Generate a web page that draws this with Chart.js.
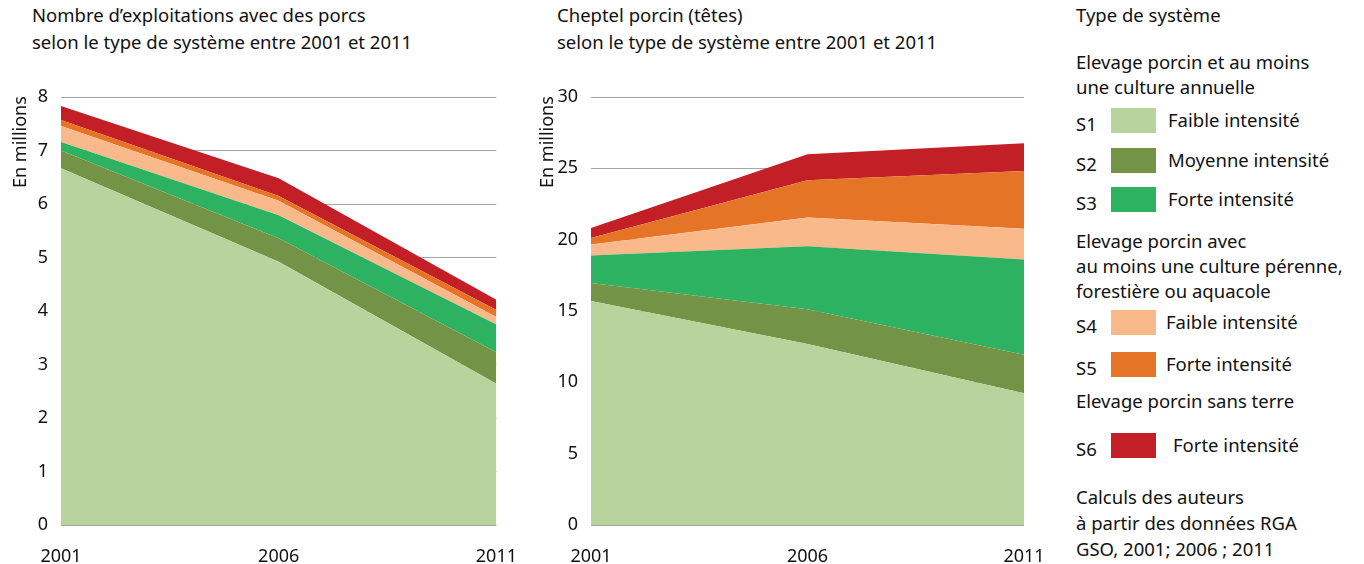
<!DOCTYPE html>
<meta charset="utf-8" />
<title>Exploitations et cheptel porcin</title>
<script src="https://cdn.jsdelivr.net/npm/chart.js@4/dist/chart.umd.min.js"></script>
<style>
body {
	margin: 0;
	width: 1364px;
	height: 564px;
	position: relative;
	overflow: hidden;
	background: #fff;
	font-family: 'Noto Sans', sans-serif;
	font-size: 18.5px;
	color: #111;
}
.title {
	position: absolute;
	top: 1px;
	line-height: 27px;
	white-space: nowrap;
}
.ytitle {
	position: absolute;
	white-space: nowrap;
	transform-origin: left top;
	transform: rotate(-90deg);
	font-size: 18px;
}
.box {
	position: absolute;
	top: 60px;
	height: 504px;
}
.legend {
	position: absolute;
	left: 1076px;
	top: 0;
	width: 288px;
}
.legend div {
	position: absolute;
	white-space: nowrap;
	line-height: 26px;
}
.sw {
	width: 45px;
	height: 25px;
}
</style>

<div class="title" style="left: 32px;">Nombre d’exploitations avec des porcs<br>selon le type de système entre 2001 et 2011</div>
<div class="title" style="left: 557px;">Cheptel porcin (têtes)<br>selon le type de système entre 2001 et 2011</div>

<div class="box" style="left: 0; width: 530px;"><canvas id="farms"></canvas></div>
<div class="box" style="left: 530px; width: 530px;"><canvas id="herd"></canvas></div>

<div class="ytitle" style="left: 7px; top: 188px;">En millions</div>
<div class="ytitle" style="left: 534px; top: 188px;">En millions</div>

<div class="legend" id="legend"></div>

<script>
const years = ['2001', '2006', '2011'];

// nombre d'exploitations (lecture du graphique)
const farmsS1 = [6.67, 4.92, 2.64];
const farmsS2 = [0.33, 0.44, 0.59];
const farmsS3 = [0.16, 0.43, 0.52];
const farmsS4 = [0.30, 0.27, 0.14];
const farmsS5 = [0.11, 0.09, 0.13];
const farmsS6 = [0.26, 0.33, 0.19];

// cheptel (têtes)
const herdS1 = [15.7, 12.68, 9.23];
const herdS2 = [1.26, 2.44, 2.70];
const herdS3 = [1.93, 4.42, 6.68];
const herdS4 = [0.77, 2.02, 2.16];
const herdS5 = [0.46, 2.61, 4.05];
const herdS6 = [0.69, 1.81, 1.93];

const codes = ['S1', 'S2', 'S3', 'S4', 'S5', 'S6'];
const labels = ['Faible intensité', 'Moyenne intensité', 'Forte intensité', 'Faible intensité', 'Forte intensité', 'Forte intensité'];
const colors = ['#b8d49c', '#739446', '#2db262', '#f9b98a', '#e67427', '#c22026'];

const font = {family: "'Noto Sans', sans-serif", size: 18};

function makeChart(id, series, max, step, padRight) {
	return new Chart(document.getElementById(id), {
		type: 'line',
		data: {
			labels: years,
			datasets: series.map((data, i) => ({
				label: codes[i],
				data: data,
				backgroundColor: colors[i],
				borderWidth: 0,
				pointRadius: 0,
				tension: 0,
				fill: i == 0 ? 'origin' : '-1',
			})),
		},
		options: {
			animation: false,
			responsive: true,
			maintainAspectRatio: false,
			layout: {padding: {top: 37, right: padRight, left: 0, bottom: 0}},
			plugins: {legend: {display: false}, tooltip: {enabled: false}},
			scales: {
				x: {
					offset: false,
					grid: {display: false},
					border: {display: false},
					ticks: {color: '#111', font: font, padding: 13, maxRotation: 0},
					afterFit: s => { s.height = 39; },
				},
				y: {
					stacked: true,
					min: 0,
					max: max,
					grid: {color: '#a6a6a6', lineWidth: 1, drawTicks: false},
					border: {display: false},
					ticks: {color: '#111', font: font, stepSize: step, padding: 13},
					afterFit: s => { s.width = 61; },
				},
			},
		},
	});
}

makeChart('farms', [farmsS1, farmsS2, farmsS3, farmsS4, farmsS5, farmsS6], 8, 1, 32);
makeChart('herd', [herdS1, herdS2, herdS3, herdS4, herdS5, herdS6], 30, 5, 36);

// légende
const legend = document.getElementById('legend');
function text(y, s) {
	const d = document.createElement('div');
	d.style.top = (y - 13) + 'px';
	d.style.left = '0px';
	d.innerHTML = s;
	legend.append(d);
}
function row(y, i, tx) {
	text(y + 4, codes[i]);
	const sw = document.createElement('div');
	sw.className = 'sw';
	sw.style.left = '35px';
	sw.style.top = (y - 12) + 'px';
	sw.style.background = colors[i];
	legend.append(sw);
	const t = document.createElement('div');
	t.style.left = tx + 'px';
	t.style.top = (y - 13) + 'px';
	t.textContent = labels[i];
	legend.append(t);
}
text(15, 'Type de système');
text(62, 'Elevage porcin et au moins');
text(87, 'une culture annuelle');
row(120, 0, 92);
row(160, 1, 92);
row(199, 2, 92);
text(241, 'Elevage porcin avec');
text(266, 'au moins une culture pérenne,');
text(291, 'forestière ou aquacole');
row(322, 3, 90);
row(364, 4, 90);
text(401, 'Elevage porcin sans terre');
row(445, 5, 97);
text(497, 'Calculs des auteurs');
text(523, 'à partir des données RGA');
text(549, 'GSO, 2001; 2006 ; 2011');
</script>
